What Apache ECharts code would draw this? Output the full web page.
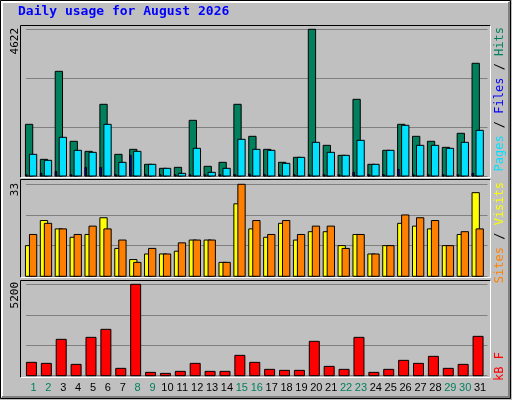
<!DOCTYPE html>
<html><head><meta charset="utf-8">
<script src="https://cdn.jsdelivr.net/npm/echarts@6/dist/echarts.min.js"></script>
<style>html,body{margin:0;padding:0;background:#c0c0c0}#c{width:512px;height:400px}</style>
</head><body><div id="c"></div>
<script>
var days = ['1','2','3','4','5','6','7','8','9','10','11','12','13','14','15','16','17','18','19','20','21','22','23','24','25','26','27','28','29','30','31'];
var weekend = [1,2,8,9,15,16,22,23,29,30];
var hits = [1628,525,3298,1093,777,2259,683,840,368,242,273,1754,305,431,2259,1250,840,431,588,4622,966,651,2416,368,809,1628,1250,1093,903,1345,3551];
var pages = [683,494,1219,809,746,1628,431,777,368,242,84,872,116,242,1156,840,809,399,588,1061,746,651,1124,368,809,1597,966,966,872,1061,1439];
var files = [42,84,147,42,273,273,42,651,42,42,42,42,42,42,42,63,42,42,42,42,42,42,116,42,42,210,42,42,42,42,84];
var visits = [11,20,17,14,15,21,10,6,8,8,9,13,13,5,26,17,14,19,13,16,16,11,15,8,11,19,18,17,11,15,30];
var sites = [15,19,17,15,18,17,13,5,10,8,12,13,13,5,33,20,15,20,15,18,18,10,15,8,11,22,21,20,11,16,17];
var kbytes = [759,702,2069,645,2182,2638,418,5200,190,133,247,702,247,247,1158,759,361,304,304,1955,531,361,2182,190,361,873,702,1101,418,645,2239];
var maxHits = 4622, maxVisits = 33, maxKB = 5200;

var chart = echarts.init(document.getElementById('c'));
var L = 26, R = 24.5;
var grids = [
  {left:L, right:R, top:29.3, height:146.7},
  {left:L, right:R, top:184.3, height:92},
  {left:L, right:R, top:284.3, height:91.4}
];
function xa(i, show){
  return {type:'category', gridIndex:i, data:days, boundaryGap:true,
    axisLine:{show:false}, axisTick:{show:false},
    axisLabel: show ? {show:true, margin:7, interval:0, fontFamily:'Liberation Sans', fontSize:11,
      formatter:function(v){return weekend.indexOf(+v)>=0 ? '{w|'+v+'}' : '{n|'+v+'}';},
      rich:{w:{color:'#00805c',fontFamily:'Liberation Sans',fontSize:11},n:{color:'#000',fontFamily:'Liberation Sans',fontSize:11}}} : {show:false},
    splitLine:{show:false}};
}
function ya(i, max){
  return {type:'value', gridIndex:i, min:0, max:max, interval:max/3,
    axisLabel:{show:false}, axisLine:{show:false}, axisTick:{show:false},
    splitLine:{show:true, lineStyle:{color:'#808080', width:1}}};
}
function barSeries(gi, data, dx, w, color, z){
  return {type:'custom', xAxisIndex:gi, yAxisIndex:gi, z:z,
    data:data.map(function(v,i){return [i,v];}),
    renderItem:function(params, api){
      var p = api.coord([api.value(0), api.value(1)]);
      var b = api.coord([api.value(0), 0]);
      return {type:'rect', shape:{x:p[0]+dx, y:p[1], width:w, height:b[1]-p[1]},
        style:{fill:color, stroke:'#000', lineWidth:1}};
    }};
}
function frame(x1,y1,x2,y2){
  return [
    {type:'polyline', shape:{points:[[x1,y2],[x1,y1],[x2,y1]]}, style:{stroke:'#000',fill:null,lineWidth:1}, z:50},
    {type:'polyline', shape:{points:[[x2,y1],[x2,y2],[x1,y2]]}, style:{stroke:'#fff',fill:null,lineWidth:1}, z:50}
  ];
}
function vtext(x,y,rich,txt,size){
  return {type:'text', x:x, y:y, rotation:Math.PI/2, z:60,
    style:{text:txt, rich:rich, align:'right', verticalAlign:'middle', fontFamily:'DejaVu Sans Mono', fontSize:size||11, fill:'#000'}};
}
var g = [
  {type:'rect', shape:{x:0.5,y:0.5,width:510,height:398}, style:{fill:null, stroke:'#000', lineWidth:1}, z:40},
  {type:'polyline', shape:{points:[[2,397],[2,2],[509,2]]}, style:{stroke:'#fff',fill:null,lineWidth:2}, z:40},
  {type:'polyline', shape:{points:[[509,2],[509,397],[2,397]]}, style:{stroke:'#808080',fill:null,lineWidth:2}, z:40},
  {type:'text', x:18, y:12, z:60, style:{text:'Daily usage for August 2026', fill:'#0000ff', fontFamily:'DejaVu Sans Mono', fontWeight:'bold', fontSize:13, verticalAlign:'middle'}},
  vtext(15,28,null,String(maxHits)),
  vtext(15,183,null,String(maxVisits)),
  vtext(15,282,null,String(maxKB)),
  vtext(500,27,{p:{fill:'#00e0ff'},s:{fill:'#000'},f:{fill:'#0000ff'},h:{fill:'#00805c'}},'{p|Pages}{s| / }{f|Files}{s| / }{h|Hits}',12),
  vtext(500,182,{a:{fill:'#ff8000'},s:{fill:'#000'},b:{fill:'#ffff00'}},'{a|Sites}{s| / }{b|Visits}',12),
  vtext(500,352,{k:{fill:'#ff0000'}},'{k|kB F}',12)
].concat(frame(20.5,25.5,490.5,177.5), frame(20.5,179.5,490.5,277.5), frame(20.5,280.5,490.5,377.5));

chart.setOption({
  animation:false, backgroundColor:'#c0c0c0',
  grid:grids,
  xAxis:[xa(0,false), xa(1,false), xa(2,true)],
  yAxis:[ya(0,maxHits), ya(1,maxVisits), ya(2,maxKB)],
  series:[
    barSeries(0, hits, -8, 7.3, '#00805c', 2),
    barSeries(0, pages, -4, 7.3, '#00e0ff', 3),
    barSeries(0, files, -8, 1.5, '#0000ff', 4),
    barSeries(1, visits, -8, 7.3, '#ffff00', 2),
    barSeries(1, sites, -4, 7.3, '#ff8000', 3),
    barSeries(2, kbytes, -7, 10, '#ff0000', 2)
  ],
  graphic:g
});
</script></body></html>
